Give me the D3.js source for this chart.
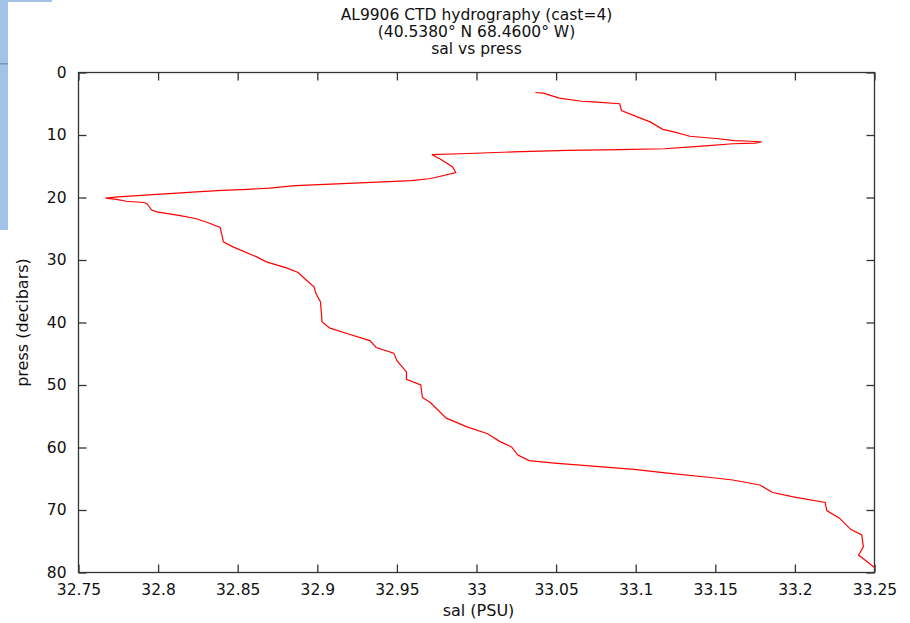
<!DOCTYPE html>
<html>
<head>
<meta charset="utf-8">
<script src="https://cdn.jsdelivr.net/npm/d3@7"></script>
<style>
  html, body { margin: 0; padding: 0; background: #fff; }
  svg { display: block; }
  text { font-family: "DejaVu Sans", sans-serif; fill: #111; }
</style>
</head>
<body>
<svg id="chart" width="910" height="623"></svg>
<script>
// ---- data ----
const titleLines = ["AL9906 CTD hydrography (cast=4)", "(40.5380° N 68.4600° W)", "sal vs press"];
const xLabel = "sal (PSU)";
const yLabel = "press (decibars)";
const xTicks = [32.75, 32.8, 32.85, 32.9, 32.95, 33, 33.05, 33.1, 33.15, 33.2, 33.25];
const yTicks = [0, 10, 20, 30, 40, 50, 60, 70, 80];
const press = [3.2, 3.3, 4.1, 4.6, 4.7, 5.0, 6.1, 7.1, 7.9, 9.1, 9.5, 10.2, 10.6, 10.9, 11.0, 11.1,
  11.3, 11.4, 11.65, 11.9, 12.2, 12.35, 12.45, 12.7, 13.0, 13.15, 13.8, 15.1, 16.0, 16.8, 17.0,
  17.3, 17.5, 17.7, 17.9, 18.1, 18.5, 18.7, 18.85, 19.1, 19.3, 19.5, 19.7, 19.9, 20.1, 20.3, 20.6,
  20.8, 21.0, 22.0, 22.3, 22.9, 23.4, 24.0, 24.8, 25.9, 27.1, 27.9, 29.5, 30.3, 31.3, 32.0, 33.2,
  34.3, 35.3, 36.7, 39.9, 40.9, 41.8, 42.9, 44.0, 44.9, 46.1, 47.9, 49.1, 50.0, 52.0, 52.8, 55.3,
  56.7, 57.8, 59.1, 59.9, 61.2, 62.1, 62.5, 62.9, 63.5, 64.1, 64.8, 65.2, 66.0, 67.2, 67.9, 68.8,
  70.1, 71.3, 73.1, 74.0, 75.9, 77.2, 79.2];
const sal = [33.037, 33.042, 33.052, 33.066, 33.073, 33.090, 33.091, 33.101, 33.109, 33.117, 33.124, 33.134, 33.152, 33.162, 33.172, 33.179,
  33.175, 33.161, 33.148, 33.135, 33.118, 33.090, 33.057, 33.023, 32.990, 32.972, 32.977, 32.985, 32.987, 32.974, 32.970,
  32.959, 32.941, 32.923, 32.905, 32.886, 32.870, 32.856, 32.840, 32.824, 32.812, 32.799, 32.787, 32.775, 32.767, 32.774, 32.780,
  32.791, 32.793, 32.796, 32.799, 32.814, 32.824, 32.831, 32.839, 32.840, 32.841, 32.847, 32.862, 32.868, 32.881, 32.888, 32.893,
  32.898, 32.899, 32.902, 32.903, 32.908, 32.919, 32.933, 32.937, 32.948, 32.950, 32.956, 32.956, 32.965, 32.966, 32.971, 32.981,
  32.994, 33.007, 33.015, 33.022, 33.026, 33.033, 33.049, 33.069, 33.099, 33.120, 33.147, 33.161, 33.178, 33.186, 33.199, 33.219,
  33.220, 33.228, 33.235, 33.242, 33.243, 33.240, 33.250];

// ---- layout ----
const L = 78.5, R = 874.5, T = 72.5, B = 572.5;
const svg = d3.select("#chart");

// background fragment at top-left (part of the reference screenshot)
svg.append("rect").attr("x", 0).attr("y", 0).attr("width", 8).attr("height", 230).attr("fill", "#a3c2e8");
svg.append("rect").attr("x", 0).attr("y", 0).attr("width", 52).attr("height", 2).attr("fill", "#a3c2e8");
svg.append("rect").attr("x", 0).attr("y", 63).attr("width", 8).attr("height", 1.5).attr("fill", "#7f93ad");

const x = d3.scaleLinear().domain([32.75, 33.25]).range([L, R]);
const y = d3.scaleLinear().domain([0, 80]).range([T, B]);

const axisColor = "#333";
const fmt = d => String(+d.toFixed(2));

function styleAxis(g, showLabels) {
  g.select(".domain").remove();
  g.selectAll(".tick line").attr("stroke", axisColor).attr("stroke-width", 1.3);
  g.selectAll(".tick text").attr("font-size", "15.5px").attr("fill", "#111");
  if (!showLabels) g.selectAll(".tick text").remove();
}

// bottom
svg.append("g").attr("transform", `translate(0,${B})`)
  .call(d3.axisBottom(x).tickValues(xTicks).tickFormat(fmt).tickSizeInner(-8).tickSizeOuter(0).tickPadding(11))
  .call(g => styleAxis(g, true));
// top
svg.append("g").attr("transform", `translate(0,${T})`)
  .call(d3.axisTop(x).tickValues(xTicks).tickSizeInner(-8).tickSizeOuter(0))
  .call(g => styleAxis(g, false));
// left
svg.append("g").attr("transform", `translate(${L},0)`)
  .call(d3.axisLeft(y).tickValues(yTicks).tickFormat(d3.format("d")).tickSizeInner(-8).tickSizeOuter(0).tickPadding(12))
  .call(g => styleAxis(g, true));
// right
svg.append("g").attr("transform", `translate(${R},0)`)
  .call(d3.axisRight(y).tickValues(yTicks).tickSizeInner(-8).tickSizeOuter(0))
  .call(g => styleAxis(g, false));

// frame
svg.append("rect").attr("x", L).attr("y", T).attr("width", R - L).attr("height", B - T)
  .attr("fill", "none").attr("stroke", axisColor).attr("stroke-width", 1.3);

// data line
const pts = press.map((p, i) => [sal[i], p]);
svg.append("path").datum(pts)
  .attr("fill", "none").attr("stroke", "#ff0000").attr("stroke-width", 1.2)
  .attr("d", d3.line().x(d => x(d[0])).y(d => y(d[1])));

// title
const cx = (L + R) / 2;
svg.append("text").attr("x", cx).attr("y", 20).attr("text-anchor", "middle").attr("font-size", "15.5px")
  .selectAll("tspan").data(titleLines).join("tspan")
  .attr("x", cx).attr("dy", (d, i) => i === 0 ? 0 : 16.8).text(d => d);

// axis labels
svg.append("text").attr("x", cx + 2).attr("y", 616).attr("text-anchor", "middle").attr("font-size", "16px").text(xLabel);
svg.append("text").attr("transform", `translate(28,${(T + B) / 2}) rotate(-90)`)
  .attr("text-anchor", "middle").attr("font-size", "16px").text(yLabel);
</script>
</body>
</html>
